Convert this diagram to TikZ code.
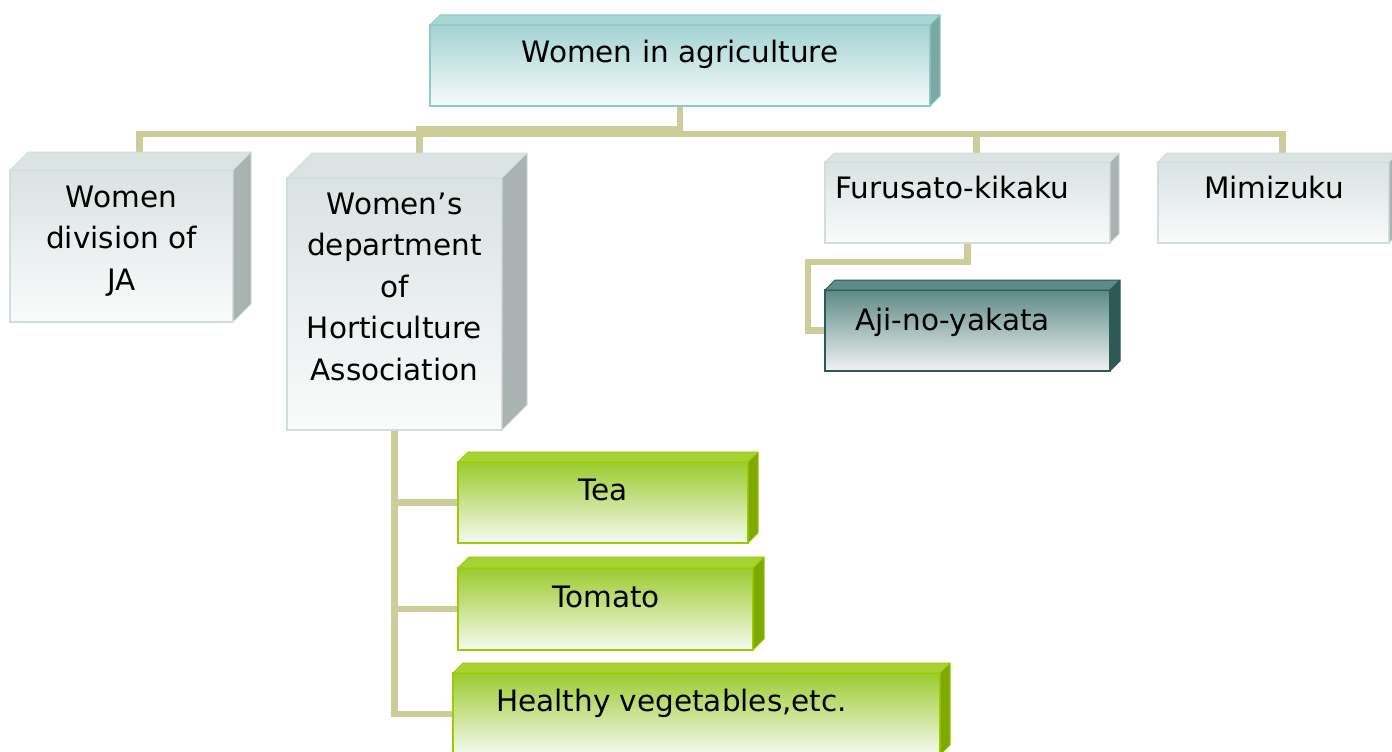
\documentclass[tikz,border=0pt]{standalone}
\usepackage{fontspec}
\setmainfont{DejaVu Sans}
\usetikzlibrary{calc,backgrounds}

\definecolor{connline}{HTML}{CDCD9B}
% colour sets: top / bottom of the front, edge, lid, side
\definecolor{skytop}{HTML}{A4D2D2}
\definecolor{skybot}{HTML}{F6FBFB}
\definecolor{skyedge}{HTML}{8FCACA}
\definecolor{skycap}{HTML}{AAD5D5}
\definecolor{skyside}{HTML}{7BA7A5}
\definecolor{misttop}{HTML}{DAE2E2}
\definecolor{mistbot}{HTML}{FAFBFB}
\definecolor{mistedge}{HTML}{D3DDDD}
\definecolor{mistcap}{HTML}{DCE3E3}
\definecolor{mistside}{HTML}{ABB3B2}
\definecolor{slatetop}{HTML}{5C8A86}
\definecolor{slatebot}{HTML}{F2F3F3}
\definecolor{slateedge}{HTML}{2E5A56}
\definecolor{slatecap}{HTML}{5E8B87}
\definecolor{slateside}{HTML}{2E5A56}
\definecolor{leaftop}{HTML}{9BCB2E}
\definecolor{leafbot}{HTML}{F7FAF1}
\definecolor{leafedge}{HTML}{9ACC00}
\definecolor{leafcap}{HTML}{A6D331}
\definecolor{leafside}{HTML}{7FA800}

\newcommand{\boxfaces}[3]{%
  \filldraw[draw=#3edge, fill=#3cap, line width=1pt, line join=round]
    (#1.north west) -- ++(#2,-#2) -- ($(#1.north east)+(#2,-#2)$) -- (#1.north east) -- cycle;
  \filldraw[draw=#3edge, fill=#3side, line width=1pt, line join=round]
    (#1.north east) -- ++(#2,-#2) -- ($(#1.south east)+(#2,-#2)$) -- (#1.south east) -- cycle;
}

\tikzset{
  face/.style={draw=#1edge, line width=1.2pt, top color=#1top, bottom color=#1bot,
    inner sep=0pt, outer sep=0pt},
  conn/.style={draw=connline, line width=6.5pt},
  lbl/.style={font=\fontsize{29.5}{41.5}\selectfont, inner sep=0pt, align=center},
}

\begin{document}
\begin{tikzpicture}[x=1pt, y=-1pt]
    \useasboundingbox (0,0) rectangle (1392,752);

    % front faces
    \node[face=sky,  minimum width=500pt, minimum height=81pt]  (agri)   at (680,65.5)   {};
    \node[face=mist, minimum width=223pt, minimum height=152pt] (ja)     at (121.5,246)  {};
    \node[face=mist, minimum width=215pt, minimum height=252pt] (dept)   at (394.5,304)  {};
    \node[face=mist, minimum width=285pt, minimum height=81pt]  (furu)   at (967.5,202.5) {};
    \node[face=mist, minimum width=231pt, minimum height=81pt]  (mimi)   at (1273.5,202.5) {};
    \node[face=slate,minimum width=285pt, minimum height=81pt]  (aji)    at (967.5,330.5) {};
    \node[face=leaf, minimum width=290pt, minimum height=81pt]  (tea)    at (603,502.5)  {};
    \node[face=leaf, minimum width=295pt, minimum height=82pt]  (tomato) at (605.5,609)  {};
    \node[face=leaf, minimum width=487pt, minimum height=82pt]  (veg)    at (696.5,714)  {};

    % lids and sides
    \foreach \n/\d/\col in {agri/10/sky, ja/18/mist, dept/25/mist, furu/9/mist, mimi/9/mist,
                            aji/10/slate, tea/10/leaf, tomato/11/leaf, veg/10/leaf} {
        \boxfaces{\n}{\d}{\col}
    }

    % texts (base = last line)
    \node[lbl, anchor=base]      (agri-t)   at (680,63)    {Women in agriculture};
    \node[lbl, anchor=base]      (ja-t)     at (121.5,290) {Women\\division of\\JA};
    \node[lbl, anchor=base]      (dept-t)   at (394.5,380) {Women’s\\department\\of\\Horticulture\\Association};
    \node[lbl, anchor=base west] (furu-t)   at (835,198)   {Furusato-kikaku};
    \node[lbl, anchor=base]      (mimi-t)   at (1274,198)  {Mimizuku};
    \node[lbl, anchor=base west] (aji-t)    at (855,330)   {Aji-no-yakata};
    \node[lbl, anchor=base]      (tea-t)    at (603,500)   {Tea};
    \node[lbl, anchor=base]      (tomato-t) at (606,607)   {Tomato};
    \node[lbl, anchor=base west] (veg-t)    at (496,711)   {Healthy vegetables,etc.};

    % connectors, behind the boxes
    \begin{scope}[on background layer]
        \fill[white] (0,0) rectangle (1392,752);
        \foreach \n/\d/\h in {ja/18/28, furu/9/28, mimi/9/28, dept/25/23} {
            \draw[conn] (agri.south) -- ++(0,\h) -| ([xshift=\d pt]\n.north);
        }
        \draw[conn] (furu.south) -- ++(0,19) -| ([xshift=-17pt]aji.west) -- (aji.west);
        \foreach \n in {tea,tomato,veg} {
            \draw[conn] (dept.south) |- (\n.west);
        }
    \end{scope}
\end{tikzpicture}
\end{document}
